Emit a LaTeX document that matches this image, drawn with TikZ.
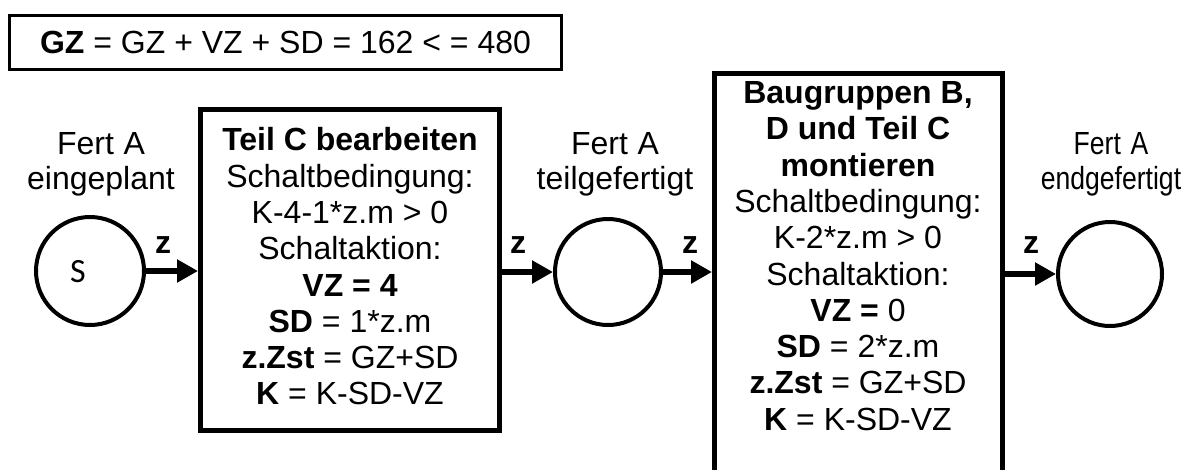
\documentclass[tikz,border=0pt]{standalone}
\usepackage{fontspec}
\setmainfont{Liberation Sans}
\newfontfamily\sletter{Carlito}
\newfontfamily\narrowfont[FakeStretch=0.83]{Liberation Sans}
\usetikzlibrary{arrows.meta}
\begin{document}
\begin{tikzpicture}[x=1pt,y=1pt,
  lbl/.style={font=\fontsize{32}{35}\selectfont, align=center, inner sep=0pt},
  boxtxt/.style={font=\fontsize{32}{36.3}\selectfont, align=center, inner sep=0pt},
  place/.style={circle, draw, line width=4pt, minimum size=106pt, inner sep=0pt},
  trans/.style={draw, line width=5pt, inner sep=0pt},
  arr/.style={line width=5.5pt, -{Triangle[length=21pt,width=22pt]}},
  zlbl/.style={font=\fontsize{32}{36}\selectfont\bfseries, inner sep=0pt}]
\clip (0,0) rectangle (1191,-469);
\fill[white] (0,0) rectangle (1191,-469);
% top formula box
\node[draw, line width=3pt, minimum width=552pt, minimum height=54pt, inner sep=0pt,
  font=\fontsize{32}{36}\selectfont] (gz) at (285.5,-42.5)
  {\textbf{GZ} = GZ + VZ + SD = 162 < = 480};
% places
\node[place, minimum size=108pt] (c1) at (90,-271) {};
\node[font=\sletter\fontsize{34}{34}\selectfont, inner sep=0pt] (s) at (78,-272) {S};
\node[place] (c2) at (608,-272) {};
\node[place, minimum size=104pt] (c3) at (1110,-274) {};
% place labels
\node[lbl] (l1) at (101,-164) {Fert\hspace{0.3em}A\\eingeplant};
\node[lbl] (l2) at (615,-164) {Fert\hspace{0.3em}A\\teilgefertigt};
\node[lbl, font=\narrowfont\fontsize{32}{35}\selectfont] (l3) at (1111,-164) {Fert\hspace{0.3em}A\\endgefertigt};
% transition 1
\node[trans, minimum width=299pt, minimum height=321pt] (b1) at (350,-270) {};
\node[boxtxt] (b1t) at (350,-266.5) {\textbf{Teil C bearbeiten}\\Schaltbedingung:\\K-4-1*z.m > 0\\Schaltaktion:\\\textbf{VZ = 4}\\\textbf{SD} = 1*z.m\\\textbf{z.Zst} = GZ+SD\\\textbf{K} = K-SD-VZ};
% transition 2 (runs past the bottom edge)
\node[trans, minimum width=288pt, minimum height=440pt, anchor=north] (b2) at (858.5,-70.5) {};
\node[boxtxt] (b2t) at (858,-256) {\textbf{Baugruppen B,}\\\textbf{D und Teil C}\\\textbf{montieren}\\Schaltbedingung:\\K-2*z.m > 0\\Schaltaktion:\\\textbf{VZ =} 0\\\textbf{SD} = 2*z.m\\\textbf{z.Zst} = GZ+SD\\\textbf{K} = K-SD-VZ};
% arcs
\draw[arr] (c1) -- (c1 -| b1.west);
\draw[arr] (b1.east |- c2) -- (c2);
\draw[arr] (c2) -- (c2 -| b2.west);
\draw[arr] (b2.east |- c3) -- (c3);
% arc labels
\node[zlbl] (z1) at (163,-245) {z};
\node[zlbl] (z2) at (518,-245) {z};
\node[zlbl] (z3) at (690,-245) {z};
\node[zlbl] (z4) at (1031,-245) {z};
\end{tikzpicture}
\end{document}
